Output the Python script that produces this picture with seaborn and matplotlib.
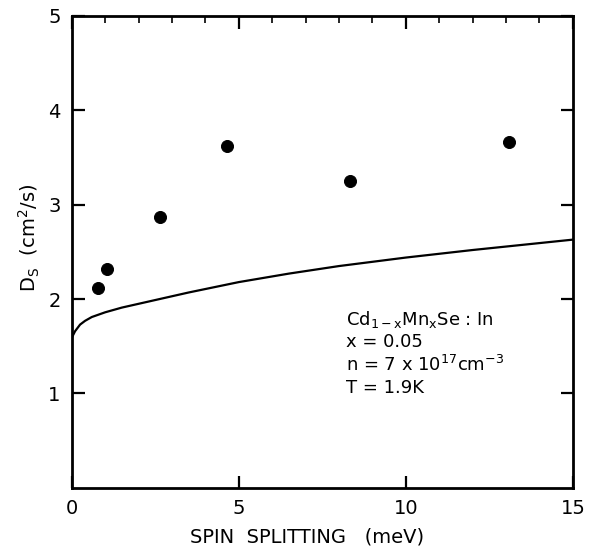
import matplotlib
matplotlib.use("Agg")
import matplotlib.pyplot as plt
import seaborn as sns
import pandas as pd

sns.set_style("ticks")
plt.rcParams["font.family"] = ["DejaVu Sans"]
plt.rcParams["text.color"] = "black"
plt.rcParams["axes.labelcolor"] = "black"

# measured points (spin splitting in meV, Ds in cm^2/s)
splitting = [0.78, 1.05, 2.63, 4.64, 8.32, 13.1]
ds_measured = [2.12, 2.32, 2.87, 3.62, 3.25, 3.66]

# theory curve
curve_x = [0.0, 0.1, 0.25, 0.4, 0.6, 1.0, 1.5, 2.0, 2.5, 3.5, 5.0, 6.5, 8.0, 10.0, 12.0, 15.0]
curve_y = [1.59, 1.66, 1.73, 1.77, 1.81, 1.86, 1.91, 1.95, 1.99, 2.07, 2.18, 2.27, 2.35, 2.44, 2.52, 2.63]

points = pd.DataFrame({"x": splitting, "y": ds_measured})
theory = pd.DataFrame({"x": curve_x, "y": curve_y})

fig = plt.figure(figsize=(5.93, 5.5), dpi=100)
ax = fig.add_axes([0.121, 0.113, 0.845, 0.858])

sns.lineplot(data=theory, x="x", y="y", color="black", linewidth=1.6, ax=ax)
sns.scatterplot(data=points, x="x", y="y", color="black", s=75, edgecolor="black", ax=ax, zorder=3)

ax.set_xlim(0, 15)
ax.set_ylim(0, 5)
ax.set_xticks([0, 5, 10, 15])
ax.set_xticks(range(1, 15), minor=True)
ax.set_yticks([1, 2, 3, 4, 5])
ax.set_yticklabels(["1", "2", "3", "4", "5"])

for side in ax.spines.values():
    side.set_linewidth(2)
    side.set_color("black")

ax.tick_params(which="major", direction="in", length=9, width=1.6,
               top=True, right=True, labelsize=14, pad=8, colors="black")
ax.tick_params(which="minor", direction="in", length=5, width=1.4,
               top=True, bottom=False)

ax.set_xlabel("SPIN  SPLITTING   (meV)", fontsize=14)
ax.set_ylabel("D$_\\mathregular{S}$  (cm$^\\mathregular{2}$/s)", fontsize=14)
ax.xaxis.set_label_coords(0.47, -0.083)
ax.yaxis.set_label_coords(-0.06, 0.53)

txt = ("Cd$_{\\mathregular{1-x}}$Mn$_{\\mathregular{x}}$Se : In\n"
       "x = 0.05\n"
       "n = 7 x 10$^{\\mathregular{17}}$cm$^{\\mathregular{-3}}$\n"
       "T = 1.9K")
ax.text(8.2, 1.9, txt, fontsize=13, va="top", ha="left", linespacing=1.25)

fig.savefig("out.png", dpi=100, facecolor="white")
